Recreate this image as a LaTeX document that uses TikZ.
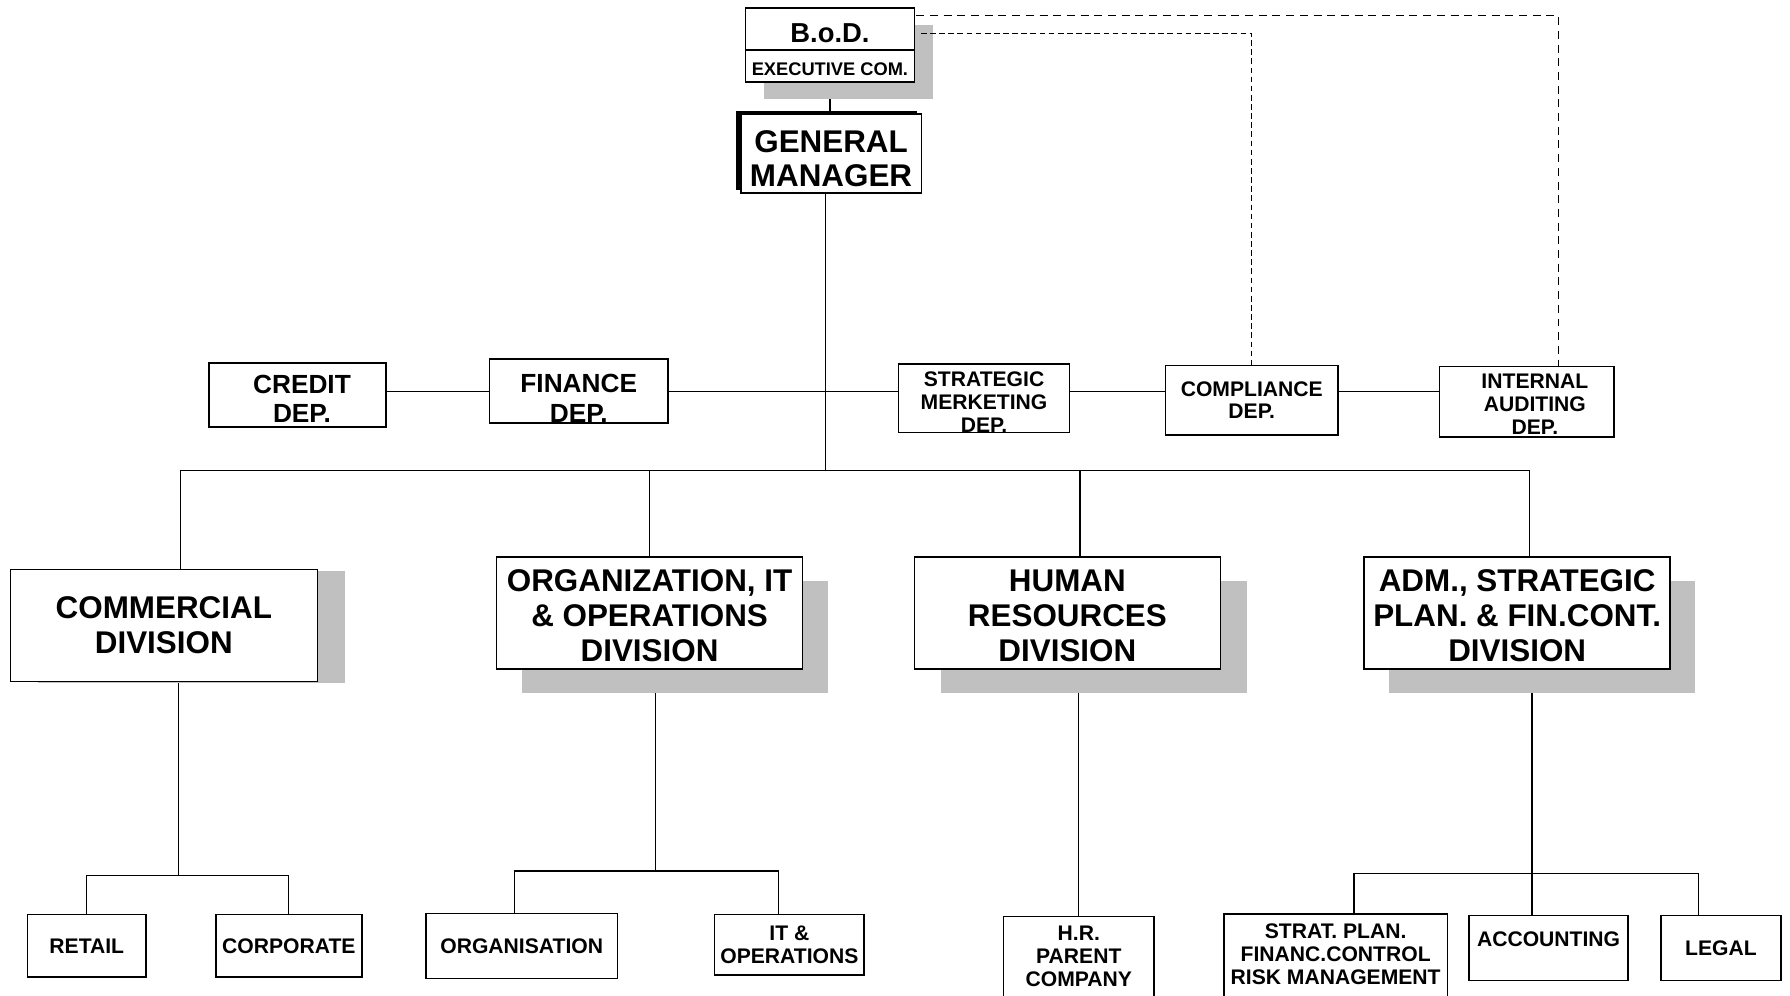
\documentclass[tikz,border=0pt]{standalone}
\usepackage{fontspec}
\setmainfont{Liberation Sans}
\usepackage{xcolor}
\usetikzlibrary{positioning,calc,backgrounds}
\definecolor{shadowGray}{HTML}{C0C0C0}

\tikzset{
  orgbox/.style={draw, line width=1.3pt, fill=white, inner sep=0pt, align=center},
  grayshade/.style={preaction={draw=none, fill=shadowGray, transform canvas={shift={#1}}}},
  blackshade/.style={preaction={draw=none, fill=black, transform canvas={shift={#1}}}},
  divbox/.style={orgbox, font=\fontsize{27.5}{30.5}\selectfont\bfseries},
  depbox/.style={orgbox, font=\fontsize{23}{25.5}\selectfont\bfseries},
  unitbox/.style={orgbox, font=\fontsize{18.5}{20}\selectfont\bfseries},
  link/.style={line width=1pt},
  dashlink/.style={line width=1pt, dash pattern=on #1},
}

\begin{document}
\begin{tikzpicture}[x=1pt, y=-1pt]
  \useasboundingbox (0,0) rectangle (1568,872);
  % board and general manager
  \node[orgbox, grayshade={(16,15)}, minimum width=148, minimum height=37, text height=23.2pt,
        font=\fontsize{24}{26}\selectfont\bfseries] (bod) at (727,25.5) {B.o.D.};
  \node[orgbox, grayshade={(16,15)}, minimum width=148, minimum height=28, text height=15.8pt,
        font=\fontsize{16}{18}\selectfont\bfseries] (excom) at (727,58) {EXECUTIVE COM.};
  \node[divbox, blackshade={(-4,-3)}, minimum width=158, minimum height=69, text height=58.8pt] (gm) at (728,134.5) {GENERAL\\MANAGER};
  % staff departments
  \node[depbox, minimum width=155, minimum height=56, text height=48.5pt] (credit) at (260.5,346) {\hspace*{8pt}CREDIT\\\hspace*{8pt}DEP.};
  \node[depbox, minimum width=156, minimum height=56, text height=54.5pt] (finance) at (507,342.5) {FINANCE\\DEP.};
  \node[unitbox, minimum width=150, minimum height=60, text height=59.7pt] (strat) at (862,349) {STRATEGIC\\MERKETING\\DEP.};
  \node[unitbox, minimum width=151, minimum height=61] (compl) at (1096.5,350.5) {COMPLIANCE\\DEP.};
  \node[unitbox, minimum width=153, minimum height=62, text height=57.2pt] (audit) at (1337.5,352) {\hspace*{14pt}INTERNAL\\\hspace*{14pt}AUDITING\\\hspace*{14pt}DEP.};
  % divisions
  \node[divbox, grayshade={(24,1)}, minimum width=269, minimum height=98] (comm) at (143.5,548) {COMMERCIAL\\DIVISION};
  \node[divbox, grayshade={(22,21)}, minimum width=268, minimum height=98, text height=85.3pt] (orgdiv) at (569,537) {ORGANIZATION, IT\\\& OPERATIONS\\DIVISION};
  \node[divbox, grayshade={(23,21)}, minimum width=268, minimum height=98, text height=84.7pt] (hrdiv) at (935,537) {HUMAN\\RESOURCES\\DIVISION};
  \node[divbox, grayshade={(22,21)}, minimum width=268, minimum height=98, text height=85.3pt] (adm) at (1329,537) {ADM., STRATEGIC\\PLAN. \& FIN.CONT.\\DIVISION};
  % units
  \node[unitbox, minimum width=104, minimum height=55] (retail) at (76,828.5) {RETAIL};
  \node[unitbox, minimum width=128, minimum height=55] (corp) at (253,828.5) {CORPORATE};
  \node[unitbox, minimum width=168, minimum height=57] (orgsub) at (457,828.5) {ORGANISATION};
  \node[unitbox, minimum width=131, minimum height=53] (itops) at (691.5,827.5) {IT \&\\OPERATIONS};
  \node[unitbox, minimum width=132, minimum height=90, anchor=north, text depth=20pt] (hrparent) at (945,802) {H.R.\\PARENT\\COMPANY};
  \node[unitbox, minimum width=196, minimum height=90, anchor=north, text depth=20pt] (stratsub) at (1170,800) {STRAT. PLAN.\\FINANC.CONTROL\\RISK MANAGEMENT};
  \node[unitbox, minimum width=139, minimum height=57, text depth=15pt] (acct) at (1356.5,830.5) {ACCOUNTING};
  \node[unitbox, minimum width=105, minimum height=57] (legal) at (1507.5,830.5) {LEGAL};
  % helper points of the tree
  \coordinate (hub) at (723,412);
  \coordinate (midrow) at (723,343);
  \coordinate (commfork) at (156,767);
  \coordinate (orgfork) at (574,763);
  \coordinate (admfork) at (1342,765);
  \begin{scope}[on background layer]
    \draw[link] (excom.south) -- (excom.south |- gm.north);
    \draw[link] (gm.south -| hub) -- (hub);
    \draw[link] (credit.east |- midrow) -- (finance.west |- midrow);
    \draw[link] (finance.east |- midrow) -- (strat.west |- midrow);
    \draw[link] (strat.east |- midrow) -- (compl.west |- midrow);
    \draw[link] (compl.east |- midrow) -- (audit.west |- midrow);
    % division bus
    \draw[link] ($(comm.north)+(14.5,0)$) |- (hub) -| ($(adm.north)+(11,0)$);
    \draw[link] (orgdiv.north) -- (orgdiv.north |- hub);
    \coordinate (hrdrop) at ($(hrdiv.north)+(11,0)$);
    \draw[link] (hrdrop) -- (hrdrop |- hub);
    % units under the divisions
    \draw[link] ($(comm.south)+(12.5,0)$) -- (commfork);
    \draw[link] (retail.north) |- (commfork) -| (corp.north);
    \draw[link] ($(orgdiv.south)+(5,0)$) -- (orgfork);
    \draw[link] ($(orgsub.north)+(-6,0)$) |- (orgfork) -| ($(itops.north)+(-9.5,0)$);
    \draw[link] (hrparent.north |- hrdiv.south) -- (hrparent.north);
    \draw[link] ($(adm.south)+(13,0)$) -- (admfork);
    \draw[link] ($(stratsub.north)+(16,0)$) |- (admfork) -| ($(legal.north)+(-19.5,0)$);
    \draw[link] (admfork) -- (admfork |- acct.north);
  \end{scope}
  % reporting lines to the board
  \coordinate (auditdrop) at ($(audit.north)+(27.5,0)$);
  \draw[dashlink={7pt off 5pt}] ($(bod.north east)+(1,7)$) -| (auditdrop);
  \draw[dashlink={5pt off 3pt}] ($(bod.east)+(5,3.5)$) -| (compl.north);
\end{tikzpicture}
\end{document}
